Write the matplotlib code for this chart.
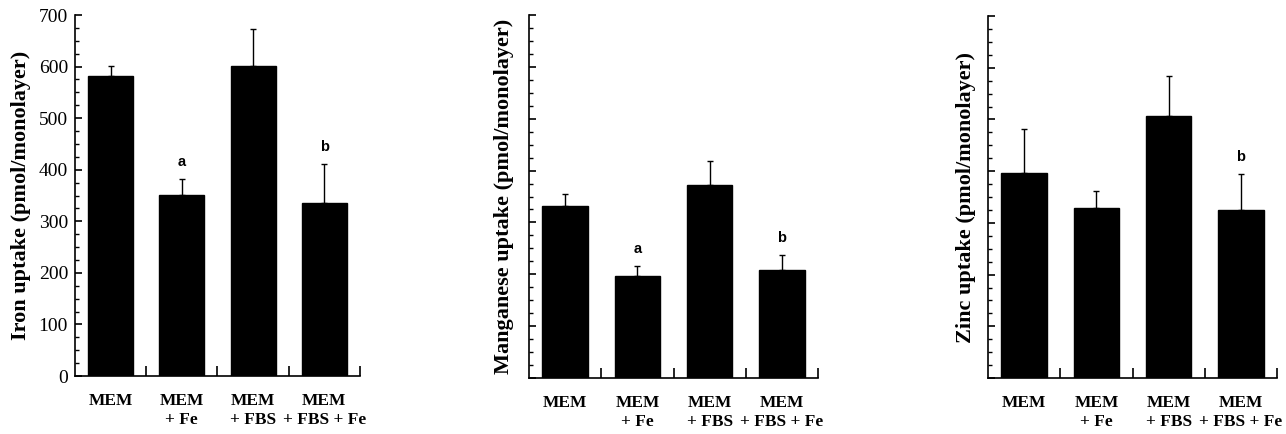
import matplotlib
matplotlib.use("Agg")
import matplotlib.pyplot as plt
from matplotlib.ticker import MultipleLocator

# data
groups = ["MEM", "MEM\n+ Fe", "MEM\n+ FBS", "MEM\n+ FBS + Fe"]

iron = [581, 351, 601, 335]
iron_err = [21, 31, 72, 76]
iron_marks = ["", "a", "", "b"]

manganese = [332, 197, 372, 208]
manganese_err = [23, 19, 46, 29]
manganese_marks = ["", "a", "", "b"]

zinc = [396, 329, 507, 325]
zinc_err = [85, 33, 77, 70]
zinc_marks = ["", "", "", "b"]

plt.rcParams['font.family'] = ['Liberation Serif', 'DejaVu Serif']
plt.rcParams['xtick.direction'] = 'in'
plt.rcParams['ytick.direction'] = 'in'

fig = plt.figure(figsize=(12.86, 4.34), dpi=100)

panels = [
    ([0.0583, 0.1336, 0.2216, 0.8318], iron, iron_err, iron_marks,
     "Iron uptake (pmol/monolayer)", True, -0.19),
    ([0.4114, 0.1290, 0.2247, 0.8364], manganese, manganese_err, manganese_marks,
     "Manganese uptake (pmol/monolayer)", False, -0.085),
    ([0.7683, 0.1290, 0.2247, 0.8341], zinc, zinc_err, zinc_marks,
     "Zinc uptake (pmol/monolayer)", False, -0.075),
]

x = list(range(len(groups)))

for rect, vals, errs, marks, ylab, show_nums, labx in panels:
    ax = fig.add_axes(rect)
    ax.bar(x, vals, width=0.63, color='black', edgecolor='black')
    ax.errorbar(x, vals, yerr=[[0] * len(errs), errs], fmt='none',
                ecolor='black', elinewidth=1.0, capsize=2.5, capthick=1.0)
    for xi, v, e, m in zip(x, vals, errs, marks):
        if m:
            ax.annotate(m, (xi, v + e), xytext=(0, 12), textcoords='offset points',
                        ha='center', va='center', fontsize=10.5, fontweight='bold',
                        family=['Liberation Sans', 'DejaVu Sans'])

    ax.set_xlim(-0.5, 3.5)
    ax.set_ylim(0, 700)
    ax.spines['top'].set_visible(False)
    ax.spines['right'].set_visible(False)
    ax.spines['left'].set_linewidth(1.2)
    ax.spines['bottom'].set_linewidth(1.2)

    ax.yaxis.set_major_locator(MultipleLocator(100))
    ax.yaxis.set_minor_locator(MultipleLocator(25))
    ax.tick_params(axis='y', which='major', length=5, width=1.2, labelsize=14, pad=5)
    ax.tick_params(axis='y', which='minor', length=3, width=1.0)
    if not show_nums:
        ax.set_yticklabels([])

    # category boundary ticks on the x axis, labels under the bars
    ax.set_xticks([0.5, 1.5, 2.5, 3.5])
    ax.set_xticklabels([])
    ax.set_xticks(x, minor=True)
    ax.set_xticklabels(groups, minor=True, fontsize=12.5, fontweight='bold',
                       linespacing=1.3, va='top')
    ax.tick_params(axis='x', which='major', length=7, width=1.2)
    ax.tick_params(axis='x', which='minor', length=0, pad=12)

    ax.set_ylabel(ylab, fontsize=16, fontweight='bold', va='center')
    ax.yaxis.set_label_coords(labx, 0.5)

plt.savefig("out.png", dpi=100)
